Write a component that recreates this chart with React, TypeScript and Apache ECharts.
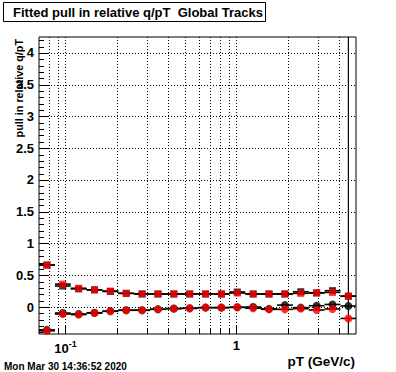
import React, { useEffect, useRef } from "react";
import * as echarts from "echarts";

// Bin edges (log-spaced, pT in GeV/c) and bin centres
const binEdges = [0.07, 0.0867, 0.1073, 0.1329, 0.1645, 0.2037, 0.2523, 0.3124, 0.3868, 0.4789, 0.593, 0.7342, 0.9091, 1.126, 1.394, 1.726, 2.137, 2.646, 3.276, 4.057, 5.0];
const binCenters = [0.0779, 0.0964, 0.1194, 0.1478, 0.183, 0.2266, 0.2806, 0.3474, 0.4302, 0.5326, 0.6595, 0.8166, 1.011, 1.252, 1.55, 1.919, 2.377, 2.943, 3.644, 4.512];

// Upper pair (squares)
const redUpper = [0.66, 0.36, 0.295, 0.27, 0.25, 0.215, 0.205, 0.205, 0.205, 0.205, 0.205, 0.205, 0.22, 0.205, 0.205, 0.205, 0.215, 0.225, 0.23, 0.17];
const blackUpper = [0.66, 0.33, 0.285, 0.27, 0.245, 0.215, 0.205, 0.205, 0.205, 0.205, 0.205, 0.205, 0.236, 0.205, 0.205, 0.205, 0.24, 0.22, 0.257, 0.17];
const blackUpperErr = [0, 0, 0, 0, 0, 0, 0, 0, 0, 0, 0, 0, 0, 0, 0, 0, 0, 0, 0, 6];

// Lower pair (circles)
const redLower = [-0.375, -0.11, -0.12, -0.095, -0.068, -0.052, -0.052, -0.037, -0.026, -0.021, -0.01, -0.01, -0.005, -0.02, -0.037, -0.037, -0.026, -0.047, -0.031, -0.18];
const blackLower = [-0.36, -0.095, -0.11, -0.09, -0.065, -0.05, -0.05, -0.035, -0.025, -0.02, -0.01, -0.01, -0.005, 0.0, -0.03, 0.03, -0.01, 0.02, 0.04, 0.016];

// Axis decoration values
const xGridValues = [0.08, 0.09, 0.1, 0.2, 0.3, 0.4, 0.5, 0.6, 0.7, 0.8, 0.9, 1, 2, 3, 4];
const xMajorValues = [0.1, 1];
const yGridValues = [0, 0.5, 1, 1.5, 2, 2.5, 3, 3.5, 4];

const titleText = "Fitted pull in relative q/pT  Global Tracks";
const yTitle = "pull in relative q/pT";
const xTitle = "pT (GeV/c)";
const dateText = "Mon Mar 30 14:36:52 2020";

const FONT = "'Liberation Sans', Arial, Helvetica, sans-serif";
const X_MIN = 0.07;
const X_MAX = 5;
const Y_MIN = -0.425;
const Y_MAX = 4.25;

export default function App() {
  const ref = useRef<HTMLDivElement>(null);

  useEffect(() => {
    if (!ref.current) return;
    const chart = echarts.init(ref.current, null, { renderer: "svg" });

    const barData: number[][] = [];
    binCenters.forEach((c, i) => {
      barData.push([binEdges[i], binEdges[i + 1], c, redLower[i], 0]);
      barData.push([binEdges[i], binEdges[i + 1], c, redUpper[i], 0]);
      barData.push([binEdges[i], binEdges[i + 1], c, blackLower[i], 0]);
      barData.push([binEdges[i], binEdges[i + 1], c, blackUpper[i], blackUpperErr[i]]);
    });

    const option: any = {
      animation: false,
      backgroundColor: "#fff",
      grid: {
        left: 39,
        top: 37,
        width: 317,
        height: 297,
        show: true,
        borderColor: "#000",
        borderWidth: 1,
        backgroundColor: "transparent",
      },
      xAxis: {
        type: "log",
        logBase: 10,
        min: X_MIN,
        max: X_MAX,
        axisLine: { show: false },
        axisTick: { show: false },
        splitLine: { show: false },
        minorTick: { show: false },
        axisLabel: {
          show: true,
          margin: 5,
          showMinLabel: false,
          showMaxLabel: false,
          color: "#000",
          fontFamily: FONT,
          fontWeight: "bold",
          fontSize: 13,
          formatter: (v: number) => {
            if (Math.abs(v - 1) < 1e-6) return "1";
            if (Math.abs(v - 0.1) < 1e-7) return "{a|10}{b|-1}";
            return "";
          },
          rich: {
            a: { fontSize: 13, fontWeight: "bold", fontFamily: FONT, lineHeight: 18, color: "#000" },
            b: { fontSize: 9, fontWeight: "bold", fontFamily: FONT, lineHeight: 10, verticalAlign: "top", color: "#000" },
          },
        },
      },
      yAxis: {
        type: "value",
        min: Y_MIN,
        max: Y_MAX,
        splitNumber: 10,
        axisLine: { show: false },
        axisTick: { show: false },
        splitLine: { show: false },
        axisLabel: {
          margin: 5,
          showMinLabel: false,
          showMaxLabel: false,
          color: "#000",
          fontFamily: FONT,
          fontWeight: "bold",
          fontSize: 13,
          formatter: (v: number) => {
            const k = Math.round(v * 2);
            if (Math.abs(v * 2 - k) > 1e-6) return "";
            return String(k / 2);
          },
        },
      },
      graphic: [
        {
          type: "rect",
          shape: { x: 3.5, y: 2.5, width: 262, height: 19 },
          style: { fill: "#fff", stroke: "#000", lineWidth: 1 },
        },
        {
          type: "text",
          x: 13,
          y: 12.5,
          style: {
            text: titleText,
            font: `bold 13px ${FONT}`,
            fill: "#000",
            verticalAlign: "middle",
          },
        },
        {
          type: "text",
          x: 18.5,
          y: 39,
          rotation: Math.PI / 2,
          style: {
            text: yTitle,
            font: `bold 10.8px ${FONT}`,
            fill: "#000",
            align: "right",
            verticalAlign: "middle",
          },
        },
        {
          type: "text",
          x: 355,
          y: 361,
          style: {
            text: xTitle,
            font: `bold 13.5px ${FONT}`,
            fill: "#000",
            align: "right",
            verticalAlign: "middle",
          },
        },
        {
          type: "text",
          x: 4,
          y: 366,
          style: {
            text: dateText,
            font: `bold 10px ${FONT}`,
            fill: "#000",
            align: "left",
            verticalAlign: "middle",
          },
        },
      ],
      series: [
        {
          type: "custom",
          name: "frame",
          clip: false,
          silent: true,
          z: 1,
          data: [[1, 0]],
          renderItem: (params: any, api: any) => {
            const cs = params.coordSys;
            const left = cs.x;
            const top = cs.y;
            const right = cs.x + cs.width;
            const bottom = cs.y + cs.height;
            const children: any[] = [];
            const dotted = { stroke: "#000", lineWidth: 1, lineDash: [1, 2], fill: null };
            const solid = { stroke: "#000", lineWidth: 1, fill: null };
            xGridValues.forEach((v) => {
              const px = Math.round(api.coord([v, 0])[0]) + 0.5;
              children.push({ type: "line", shape: { x1: px, y1: top, x2: px, y2: bottom }, style: dotted });
              const len = xMajorValues.some((m) => Math.abs(m - v) < 1e-9) ? 9 : 5;
              children.push({ type: "line", shape: { x1: px, y1: bottom, x2: px, y2: bottom - len }, style: solid });
            });
            yGridValues.forEach((v) => {
              const py = Math.round(api.coord([1, v])[1]) + 0.5;
              children.push({ type: "line", shape: { x1: left, y1: py, x2: right, y2: py }, style: dotted });
              children.push({ type: "line", shape: { x1: left, y1: py, x2: left + 9, y2: py }, style: solid });
            });
            for (let k = -4; k <= 42; k++) {
              if (k % 5 === 0) continue;
              const py = Math.round(api.coord([1, k / 10])[1]) + 0.5;
              children.push({ type: "line", shape: { x1: left, y1: py, x2: left + 5, y2: py }, style: solid });
            }
            return { type: "group", children };
          },
        },
        {
          type: "custom",
          name: "bars",
          clip: false,
          silent: true,
          z: 2,
          encode: { x: [0, 1, 2], y: 3 },
          data: barData,
          renderItem: (params: any, api: any) => {
            const cs = params.coordSys;
            const top = cs.y;
            const bottom = cs.y + cs.height;
            const lo = api.value(0);
            const hi = api.value(1);
            const c = api.value(2);
            const v = api.value(3);
            const e = api.value(4);
            const p1 = api.coord([lo, v]);
            const p2 = api.coord([hi, v]);
            const children: any[] = [
              { type: "line", shape: { x1: p1[0], y1: p1[1], x2: p2[0], y2: p2[1] }, style: { stroke: "#000", lineWidth: 1.6 } },
            ];
            if (e > 0) {
              const a = api.coord([c, v - e]);
              const b = api.coord([c, v + e]);
              const y1 = Math.min(bottom, Math.max(top, a[1]));
              const y2 = Math.min(bottom, Math.max(top, b[1]));
              children.push({ type: "line", shape: { x1: a[0], y1, x2: b[0], y2 }, style: { stroke: "#000", lineWidth: 1.2 } });
            }
            return { type: "group", children };
          },
        },
        {
          type: "scatter",
          name: "black squares",
          symbol: "rect",
          symbolSize: 7,
          z: 3,
          itemStyle: { color: "#000" },
          data: binCenters.map((c, i) => [c, blackUpper[i]]),
        },
        {
          type: "scatter",
          name: "black circles",
          symbol: "circle",
          symbolSize: 8,
          z: 3,
          itemStyle: { color: "#000" },
          data: binCenters.map((c, i) => [c, blackLower[i]]),
        },
        {
          type: "scatter",
          name: "red squares",
          symbol: "rect",
          symbolSize: 7,
          z: 4,
          itemStyle: { color: "#ff0000" },
          data: binCenters.map((c, i) => [c, redUpper[i]]),
        },
        {
          type: "scatter",
          name: "red circles",
          symbol: "circle",
          symbolSize: 8,
          z: 4,
          itemStyle: { color: "#ff0000" },
          data: binCenters.map((c, i) => [c, redLower[i]]),
        },
      ],
    };

    chart.setOption(option);
    return () => chart.dispose();
  }, []);

  return (
    <div
      ref={ref}
      style={{ position: "fixed", left: 0, top: 0, width: 396, height: 372, background: "#fff" }}
    />
  );
}
